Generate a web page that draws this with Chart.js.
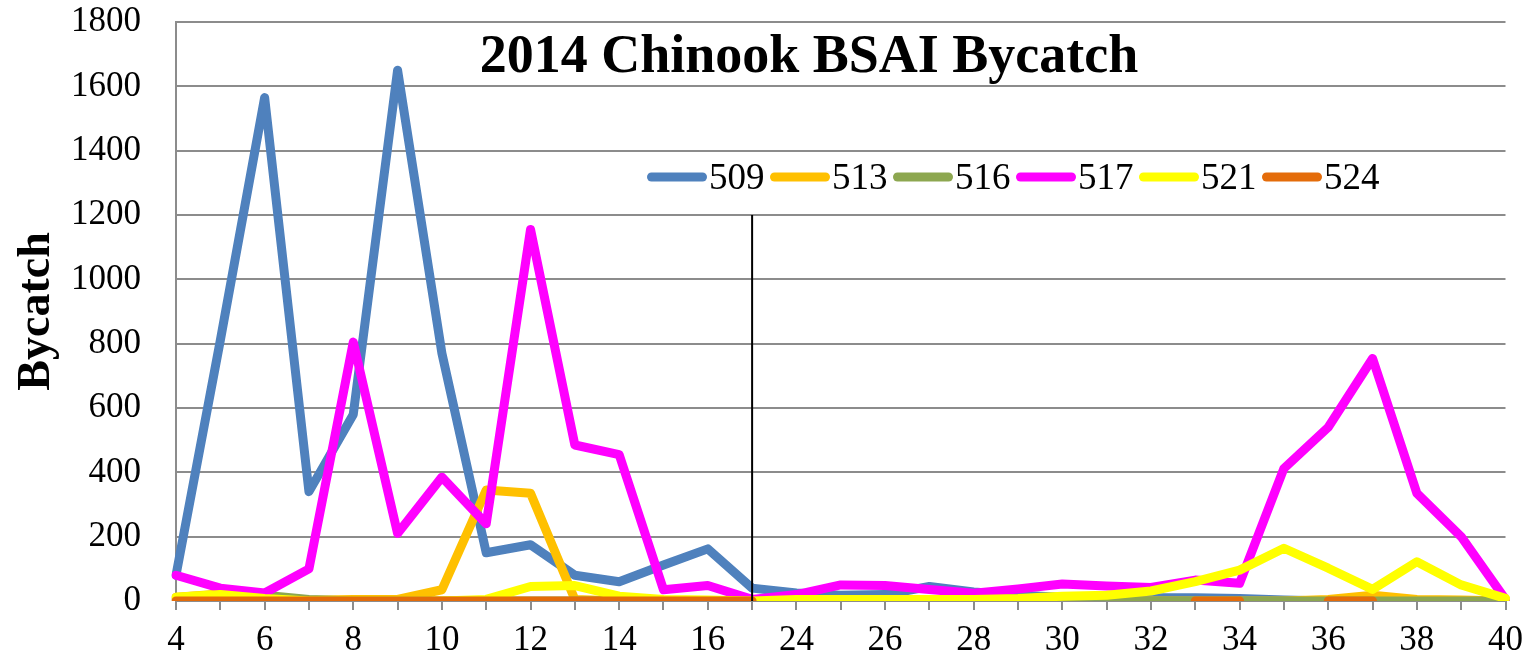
<!DOCTYPE html>
<html>
<head>
<meta charset="utf-8">
<title>2014 Chinook BSAI Bycatch</title>
<script src="https://cdn.jsdelivr.net/npm/chart.js@4.4.1/dist/chart.umd.min.js"></script>
<style>
  html, body { margin: 0; padding: 0; background: #fff; }
  #wrap { width: 1533px; height: 658px; position: relative; }
</style>
</head>
<body>
<div id="wrap"><canvas id="bycatchChart"></canvas></div>
<script>
// Statistical weeks (the gap 18-23 is skipped on the axis)
const WEEKS = ['4', '5', '6', '7', '8', '9', '10', '11', '12', '13', '14', '15', '16', '17',
  '24', '25', '26', '27', '28', '29', '30', '31', '32', '33', '34', '35', '36', '37', '38', '39', '40'];

// Excel shows every second category label
const X_TICK_LABELS = ['4', '', '6', '', '8', '', '10', '', '12', '', '14', '', '16', '',
  '24', '', '26', '', '28', '', '30', '', '32', '', '34', '', '36', '', '38', '', '40'];

const Y_MIN = 0;
const Y_MAX = 1800;
const Y_STEP = 200;

const TITLE = '2014 Chinook BSAI Bycatch';
const Y_TITLE = 'Bycatch';

// Bycatch by reporting area
const AREA_509 = [80, 810, 1565, 340, 580, 1650, 770, 150, 175, 80, 60, 112, 162, 40,
  25, 18, 20, 45, 28, 18, 12, 10, 10, 10, 8, 3, 0, 0, 0, 0, 0];
const AREA_513 = [12, 22, 10, 2, 5, 5, 35, 345, 335, 5, 0, 0, 0, 0,
  0, 0, 0, 0, 0, 0, 0, 0, 0, 0, 0, 0, 5, 18, 5, 3, 0];
const AREA_516 = [5, 12, 18, 5, 0, 0, 0, 0, 0, 0, 0, 0, 0, 0,
  0, 0, 0, 0, 0, 0, 0, 0, 0, 0, 0, 0, 0, 0, 0, 0, 0];
const AREA_517 = [80, 40, 25, 100, 805, 210, 385, 240, 1155, 485, 455, 35, 48, 5,
  20, 50, 48, 36, 24, 37, 53, 47, 42, 65, 55, 412, 540, 754, 335, 200, 5];
const AREA_521 = [12, 20, 8, 0, 0, 0, 0, 5, 45, 48, 15, 5, 3, 0,
  5, 5, 5, 5, 5, 8, 15, 18, 31, 60, 96, 164, 102, 36, 122, 50, 8];
const AREA_524 = [0, 0, 0, 0, 0, 0, 0, 0, 0, 0, 0, 0, 0, 0,
  null, null, null, null, null, null, null, null, null, 0, 0, null, 0, 0, null, null, null];

const SERIES_LABELS = ['509', '513', '516', '517', '521', '524'];
const SERIES_COLORS = ['#4F81BD', '#FFC000', '#8DA750', '#FF00FF', '#FFFF00', '#E46C0A'];
const SERIES_DATA = [AREA_509, AREA_513, AREA_516, AREA_517, AREA_521, AREA_524];

// vertical separator between week 17 and week 24
const MARKER_WEEK = '17';
const MARKER_TOP = 1200;

const SERIF = "'Times New Roman', 'Liberation Serif', serif";
const GRID_GREY = '#8C8C8C';

Chart.defaults.font.family = SERIF;
Chart.defaults.color = '#000';

// Title and legend sit inside the plot area, like the Excel original
const insideLabels = {
  id: 'insideLabels',
  afterDraw(chart) {
    const { ctx } = chart;
    ctx.save();
    ctx.fillStyle = '#000';

    ctx.font = `bold 54px ${SERIF}`;
    ctx.textAlign = 'center';
    ctx.textBaseline = 'alphabetic';
    ctx.fillText(TITLE, 809, 72);

    ctx.font = `37px ${SERIF}`;
    ctx.textAlign = 'left';
    let x = 647;
    chart.data.datasets.forEach((ds) => {
      ctx.strokeStyle = ds.borderColor;
      ctx.lineWidth = 9;
      ctx.lineCap = 'round';
      ctx.beginPath();
      ctx.moveTo(x + 4.5, 177);
      ctx.lineTo(x + 55.5, 177);
      ctx.stroke();
      ctx.fillText(ds.label, x + 62, 189);
      x += 62 + ctx.measureText(ds.label).width + 5.5;
    });
    ctx.restore();
  },
};

const weekMarker = {
  id: 'weekMarker',
  afterDatasetsDraw(chart) {
    const { ctx, scales } = chart;
    const px = scales.x.getPixelForValue(WEEKS.indexOf(MARKER_WEEK));
    ctx.save();
    ctx.strokeStyle = '#000';
    ctx.lineWidth = 2;
    ctx.beginPath();
    ctx.moveTo(px, scales.y.getPixelForValue(0));
    ctx.lineTo(px, scales.y.getPixelForValue(MARKER_TOP));
    ctx.stroke();
    ctx.restore();
  },
};

const ctx = document.getElementById('bycatchChart').getContext('2d');

new Chart(ctx, {
  type: 'line',
  data: {
    labels: WEEKS,
    datasets: SERIES_LABELS.map((label, i) => ({
      label,
      data: SERIES_DATA[i],
      borderColor: SERIES_COLORS[i],
      backgroundColor: SERIES_COLORS[i],
      borderWidth: 9,
      borderCapStyle: 'round',
      borderJoinStyle: 'round',
      pointRadius: 0,
      tension: 0,
      fill: false,
      spanGaps: false,
      order: SERIES_LABELS.length - i, // later series drawn on top, as in Excel
    })),
  },
  options: {
    responsive: true,
    maintainAspectRatio: false,
    animation: false,
    events: [],
    layout: {
      padding: { left: 0, top: 22, right: 27, bottom: 0 },
    },
    plugins: {
      legend: { display: false },
      title: { display: false },
      tooltip: { enabled: false },
    },
    scales: {
      x: {
        offset: false,
        afterFit: (scale) => { scale.height = 57; },
        grid: {
          display: true,
          drawOnChartArea: false,
          drawTicks: true,
          tickLength: 9,
          color: GRID_GREY,
          lineWidth: 2,
        },
        border: { display: true, color: GRID_GREY, width: 2 },
        ticks: {
          autoSkip: false,
          maxRotation: 0,
          minRotation: 0,
          padding: 10,
          font: { size: 35 },
          color: '#000',
          callback: (value, index) => X_TICK_LABELS[index],
        },
      },
      y: {
        min: Y_MIN,
        max: Y_MAX,
        afterFit: (scale) => {
          scale.width = 176;
          // tick padding would otherwise push the plot top down
          scale.paddingTop = 0;
          scale.paddingBottom = 0;
        },
        grid: {
          color: GRID_GREY,
          lineWidth: 2,
          drawTicks: false,
        },
        border: { display: true, color: GRID_GREY, width: 2 },
        ticks: {
          stepSize: Y_STEP,
          padding: 35,
          font: { size: 35 },
          color: '#000',
          callback: (value) => String(value),
        },
        title: {
          display: true,
          text: Y_TITLE,
          font: { size: 46, weight: 'bold' },
          color: '#000',
          padding: { top: 10, bottom: 0 },
        },
      },
    },
  },
  plugins: [weekMarker, insideLabels],
});
</script>
</body>
</html>
